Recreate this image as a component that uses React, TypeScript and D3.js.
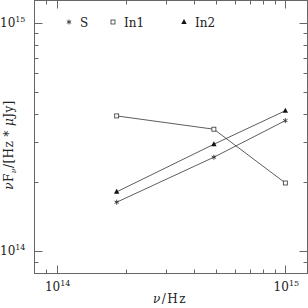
import React from 'react';
import * as d3 from 'd3';

// data
const freq = [1.83e14, 4.87e14, 1e15];
const sVals = [1.64e14, 2.58e14, 3.73e14];
const in1Vals = [3.91e14, 3.42e14, 1.99e14];
const in2Vals = [1.82e14, 2.94e14, 4.12e14];
const seriesNames = ['S', 'In1', 'In2'];
const majorTicks = [1e14, 1e15];
const minorTicks = [9e13, 2e14, 3e14, 4e14, 5e14, 6e14, 7e14, 8e14, 9e14];
const tickExp = ['14', '15'];

const W = 308;
const H = 308;
const left = 34.5, right = 307.5, top = 0.5, bottom = 273.5;
const frameCol = '#666';
const lineCol = '#333';
const textCol = '#222';
const font = '"DejaVu Serif", "Liberation Serif", serif';

const xScale = d3.scaleLog().domain([8e13, 1.25e15]).range([left, right]);
const yScale = d3.scaleLog().domain([8e13, 1.25e15]).range([bottom, top]);

const Marker = ({kind, x, y}: {kind: string, x: number, y: number}) => {
    if (kind === 'S') {
        const r = 2.5;
        return (
            <g stroke={lineCol} strokeWidth={0.9}>
                <line x1={x} y1={y - r} x2={x} y2={y + r} />
                <line x1={x - r * 0.87} y1={y - r / 2} x2={x + r * 0.87} y2={y + r / 2} />
                <line x1={x - r * 0.87} y1={y + r / 2} x2={x + r * 0.87} y2={y - r / 2} />
            </g>
        );
    }
    if (kind === 'In1') {
        return <rect x={x - 2} y={y - 2} width={4} height={4} fill="white" stroke={lineCol} strokeWidth={0.8} />;
    }
    return <path d={`M${x},${y - 3}L${x + 2.7},${y + 2}L${x - 2.7},${y + 2}Z`} fill="#111" />;
};

export default function App() {
    const allSeries = [sVals, in1Vals, in2Vals];
    const line = d3.line<number>()
        .x((d, i) => xScale(freq[i]))
        .y((d) => yScale(d));

    const ticks: React.ReactNode[] = [];
    const addTicks = (v: number, len: number, key: string) => {
        const x = Math.round(xScale(v)) + 0.5;
        const y = Math.round(yScale(v)) + 0.5;
        ticks.push(
            <g key={key} stroke={frameCol} strokeWidth={1}>
                <line x1={x} y1={bottom} x2={x} y2={bottom - len} />
                <line x1={x} y1={top} x2={x} y2={top + len} />
                <line x1={left} y1={y} x2={left + len} y2={y} />
                <line x1={right} y1={y} x2={right - len} y2={y} />
            </g>
        );
    };
    majorTicks.forEach((v, i) => addTicks(v, 8, 'M' + i));
    minorTicks.forEach((v, i) => addTicks(v, 4, 'm' + i));

    const legendX = [69, 113, 184];

    return (
        <svg width={W} height={H} style={{position: 'absolute', left: 0, top: 0, background: 'white'}}
             fontFamily={font}>
            <rect x={left} y={top} width={right - left} height={bottom - top} fill="none" stroke={frameCol} strokeWidth={1} />
            {ticks}
            {majorTicks.map((v, i) => (
                <g key={'lab' + i} fill={textCol}>
                    <text x={xScale(v) + 1} y={291} fontSize={12} textAnchor="middle">
                        10<tspan fontSize={8} dy={-5}>{tickExp[i]}</tspan>
                    </text>
                    <text x={0} y={yScale(v) + 4} fontSize={12}>
                        10<tspan fontSize={8} dy={-5}>{tickExp[i]}</tspan>
                    </text>
                </g>
            ))}
            {allSeries.map((vals, si) => (
                <g key={'s' + si}>
                    <path d={line(vals) || ''} fill="none" stroke={lineCol} strokeWidth={0.8} />
                    {vals.map((v, i) => (
                        <Marker key={i} kind={seriesNames[si]} x={xScale(freq[i])} y={yScale(v)} />
                    ))}
                </g>
            ))}
            {seriesNames.map((n, i) => (
                <g key={'leg' + i}>
                    <Marker kind={n} x={legendX[i]} y={22} />
                    <text x={legendX[i] + 11} y={27} fontSize={12} fill={textCol}>{n}</text>
                </g>
            ))}
            <text x={170} y={303} fontSize={12} textAnchor="middle" fill={textCol} letterSpacing={1.5}>
                <tspan fontStyle="italic">ν</tspan>/Hz
            </text>
            <text transform={`translate(13,145) rotate(-90)`} fontSize={12} textAnchor="middle" fill={textCol} letterSpacing={0.4}>
                <tspan fontStyle="italic">ν</tspan>F<tspan fontSize={8} dy={3} fontStyle="italic">ν</tspan><tspan dy={-3}>/[Hz * </tspan><tspan fontStyle="italic">μ</tspan>Jy]
            </text>
        </svg>
    );
}
